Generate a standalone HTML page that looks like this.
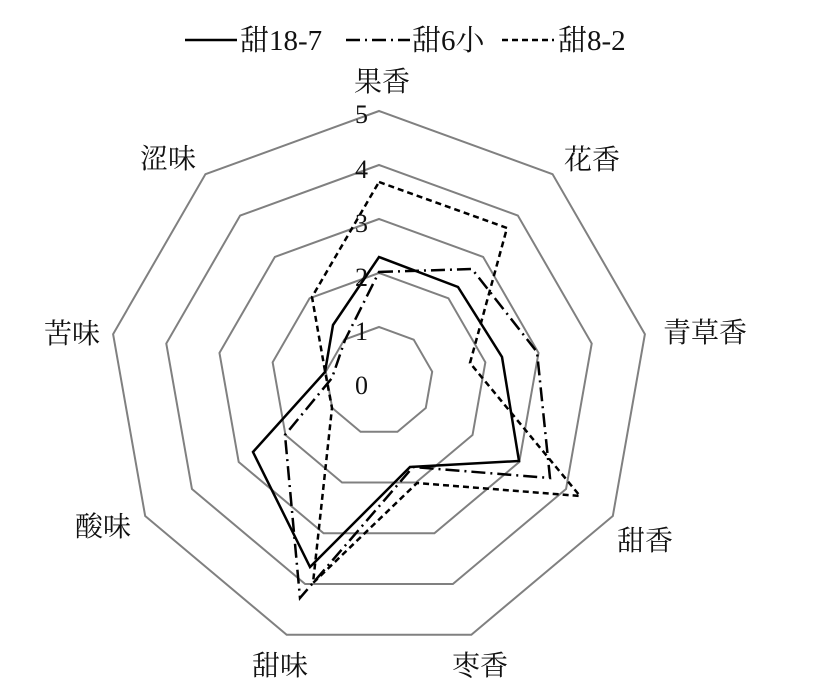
<!DOCTYPE html>
<html><head><meta charset="utf-8"><style>
html,body{margin:0;padding:0;background:#fff;}
svg{display:block;}
text{font-family:"Liberation Serif","Noto Serif CJK SC",serif;fill:#111;}
</style></head><body>
<svg width="814" height="695" viewBox="0 0 814 695">
<g transform="translate(379,381)" fill="none" stroke="#808080" stroke-width="2">
<polygon vector-effect="non-scaling-stroke" transform="scale(54)" points="0,-1 .6428,-.766 .9848,-.1736 .866,.5 .342,.9397 -.342,.9397 -.866,.5 -.9848,-.1736 -.6428,-.766"/>
<polygon vector-effect="non-scaling-stroke" transform="scale(108)" points="0,-1 .6428,-.766 .9848,-.1736 .866,.5 .342,.9397 -.342,.9397 -.866,.5 -.9848,-.1736 -.6428,-.766"/>
<polygon vector-effect="non-scaling-stroke" transform="scale(162)" points="0,-1 .6428,-.766 .9848,-.1736 .866,.5 .342,.9397 -.342,.9397 -.866,.5 -.9848,-.1736 -.6428,-.766"/>
<polygon vector-effect="non-scaling-stroke" transform="scale(216)" points="0,-1 .6428,-.766 .9848,-.1736 .866,.5 .342,.9397 -.342,.9397 -.866,.5 -.9848,-.1736 -.6428,-.766"/>
<polygon vector-effect="non-scaling-stroke" transform="scale(270)" points="0,-1 .6428,-.766 .9848,-.1736 .866,.5 .342,.9397 -.342,.9397 -.866,.5 -.9848,-.1736 -.6428,-.766"/>
</g>
<g fill="none" stroke="#000" stroke-width="2.5" stroke-linejoin="miter">
<polygon points="379,257 458,287 502,357 519,461 410,467 310,567 253,452 325,372 333,325"/>
<polygon points="379,272 472,269 537,352 550,478 413,467 300,598 285,435 332,378 345,340" stroke-dasharray="14,5,2,5"/>
<polygon points="379,182 507,228 470,363 580,496 417,483 313,583 332,408 325,371 312,297" stroke-dasharray="6,4"/>
</g>
<g font-size="26" text-anchor="end">
<text x="368" y="123">5</text>
<text x="368" y="178">4</text>
<text x="368" y="232">3</text>
<text x="368" y="286">2</text>
<text x="368" y="340">1</text>
<text x="368" y="394">0</text>
</g>
<g font-size="28" text-anchor="middle">
<text x="382" y="91">果香</text>
<text x="592" y="169">花香</text>
<text x="705" y="342">青草香</text>
<text x="645" y="550">甜香</text>
<text x="480" y="675">枣香</text>
<text x="280" y="675">甜味</text>
<text x="103" y="536">酸味</text>
<text x="72" y="343">苦味</text>
<text x="168" y="168">涩味</text>
</g>
<g stroke="#000" stroke-width="2.5">
<line x1="185" y1="40" x2="237" y2="40"/>
<line x1="346" y1="40" x2="410" y2="40" stroke-dasharray="14,5,2,5"/>
<line x1="502" y1="40" x2="554" y2="40" stroke-dasharray="6,4"/>
</g>
<g font-size="29">
<text x="240" y="50">甜18-7</text>
<text x="412" y="50">甜6小</text>
<text x="558" y="50">甜8-2</text>
</g>
</svg>
</body></html>
